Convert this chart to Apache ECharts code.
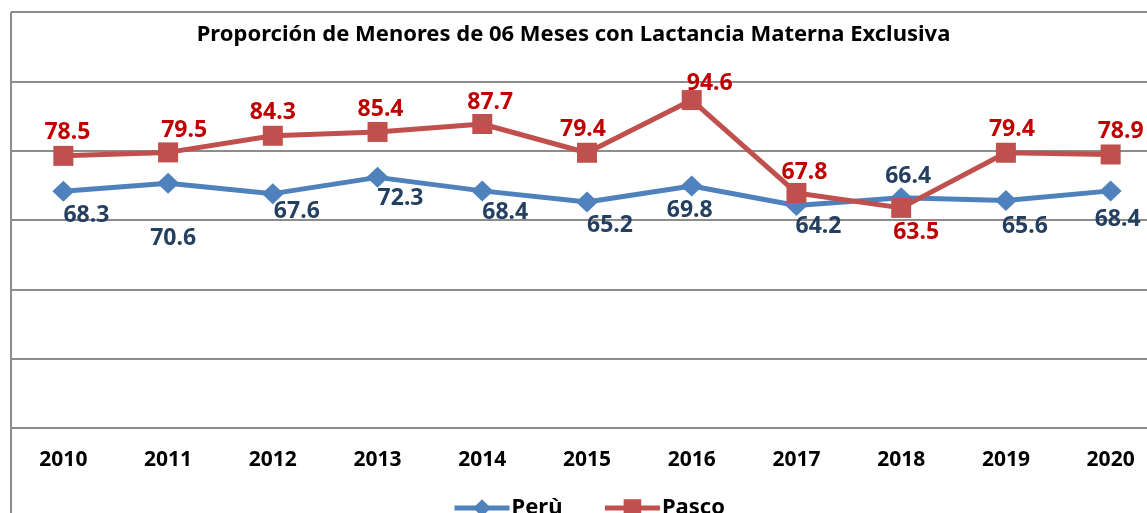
<!DOCTYPE html>
<html>
<head>
<meta charset="utf-8">
<script src="https://cdn.jsdelivr.net/npm/echarts@6/dist/echarts.min.js"></script>
<style>
  html, body { margin: 0; padding: 0; background: #fff; }
  #chart { width: 1147px; height: 513px; }
</style>
</head>
<body>
<div id="chart"></div>
<script>
var years = ['2010', '2011', '2012', '2013', '2014', '2015', '2016', '2017', '2018', '2019', '2020'];
var peru = [68.3, 70.6, 67.6, 72.3, 68.4, 65.2, 69.8, 64.2, 66.4, 65.6, 68.4];
var pasco = [78.5, 79.5, 84.3, 85.4, 87.7, 79.4, 94.6, 67.8, 63.5, 79.4, 78.9];

// desplazamiento de etiquetas (como en el original de Excel)
var peruLabelShift = [[23, 24], [5, 55], [24, 18], [23, 21], [23, 22], [23, 23], [-2, 24], [22, 21], [7, -21], [19, 26], [7, 29]];
var pascoLabelShift = [[4, -23], [16, -22], [0, -23], [3, -22], [8, -22], [-4, -23], [18, -17], [8, -21], [15, 25], [6, -23], [10, -23]];

var fuente = "'Noto Sans', 'Open Sans', sans-serif";

function conEtiquetas(valores, shift) {
    return valores.map(function (v, i) {
        return { value: v, label: { offset: shift[i] } };
    });
}

var myChart = echarts.init(document.getElementById('chart'));
var option = {
    backgroundColor: '#fff',
    animation: false,
    title: {
        text: 'Proporción de Menores de 06 Meses con Lactancia Materna Exclusiva',
        left: 'center',
        top: 19,
        textStyle: { fontFamily: fuente, fontSize: 22, fontWeight: 'bold', color: '#000' }
    },
    legend: {
        left: 447,
        top: 492,
        itemWidth: 55,
        itemHeight: 22,
        itemGap: 40,
        lineStyle: { width: 5 },
        textStyle: { fontFamily: fuente, fontSize: 22, fontWeight: 'bold', color: '#000', padding: [0, 0, 0, -3] },
        data: ['Perù', 'Pasco']
    },
    grid: { left: 11, top: 12, width: 1152, height: 416, containLabel: false, outerBoundsMode: 'none' },
    xAxis: {
        type: 'category',
        data: years,
        boundaryGap: true,
        axisLine: { show: true, lineStyle: { color: '#8c8c8c', width: 2 } },
        axisTick: { show: false },
        axisLabel: { margin: 22, fontFamily: fuente, fontSize: 21, fontWeight: 'bold', color: '#000' }
    },
    yAxis: {
        type: 'value',
        min: 0,
        max: 120,
        interval: 20,
        axisLine: { show: false },
        axisTick: { show: false },
        axisLabel: { show: false },
        splitLine: { show: true, lineStyle: { color: '#8c8c8c', width: 2 } }
    },
    graphic: [{
        type: 'line',
        shape: { x1: 11, y1: 12, x2: 11, y2: 513 },
        style: { stroke: '#8c8c8c', lineWidth: 2 }
    }],
    series: [
        {
            name: 'Perù',
            type: 'line',
            data: conEtiquetas(peru, peruLabelShift),
            symbol: 'diamond',
            symbolSize: [22, 21],
            lineStyle: { color: '#4F81BD', width: 5 },
            itemStyle: { color: '#4F81BD' },
            label: {
                show: true,
                position: 'inside',
                fontFamily: fuente,
                fontSize: 23,
                fontWeight: 'bold',
                color: '#243F60'
            },
            z: 3
        },
        {
            name: 'Pasco',
            type: 'line',
            data: conEtiquetas(pasco, pascoLabelShift),
            symbol: 'rect',
            symbolSize: 20,
            lineStyle: { color: '#C0504D', width: 5 },
            itemStyle: { color: '#C0504D' },
            label: {
                show: true,
                position: 'inside',
                fontFamily: fuente,
                fontSize: 23,
                fontWeight: 'bold',
                color: '#C00000'
            },
            z: 4
        }
    ]
};
myChart.setOption(option);
</script>
</body>
</html>
